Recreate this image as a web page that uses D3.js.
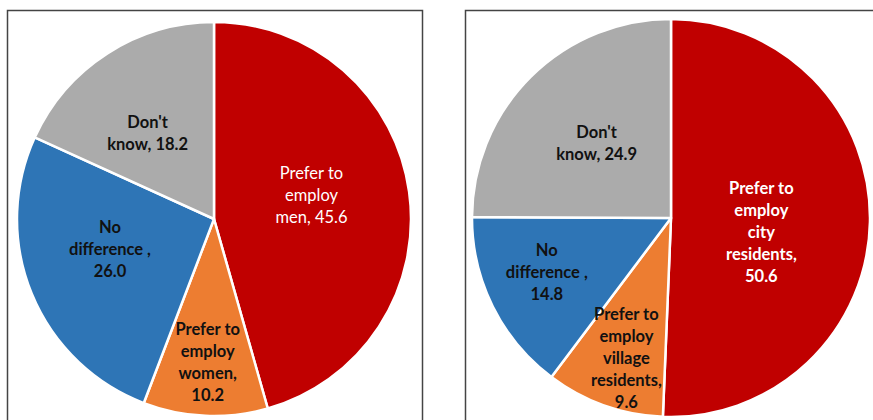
<!DOCTYPE html>
<html>
<head>
<meta charset="utf-8">
<script src="https://cdn.jsdelivr.net/npm/d3@7"></script>
<style>
  body { margin: 0; background: #fff; }
  svg { display: block; }
  text { font-family: Lato, "Open Sans", sans-serif; font-size: 16.5px; }
</style>
</head>
<body>
<svg id="chart" width="873" height="420" viewBox="0 0 873 420"></svg>
<script>
// ---- data ----
const colors = ["#C00000", "#ED7D31", "#2E75B6", "#ABABAB"];

// left: employ men vs women
const genderValues = [45.6, 10.2, 26.0, 18.2];
const genderLabels = [
    ["Prefer to", "employ", "men, {v}"],
    ["Prefer to", "employ", "women,", "{v}"],
    ["No", "difference ,", "{v}"],
    ["Don't", "know, {v}"]
];

// right: employ city vs village residents
const placeValues = [50.6, 9.6, 14.8, 24.9];
const placeLabels = [
    ["Prefer to", "employ", "city", "residents,", "{v}"],
    ["Prefer to", "employ", "village", "residents,", "{v}"],
    ["No", "difference ,", "{v}"],
    ["Don't", "know, {v}"]
];

const svg = d3.select("#chart")
const fmt = d3.format(".1f")

// panel frames (bottom/right edges run off the picture)
svg.append("rect")
    .attr("x", 7.5).attr("y", 10.5)
    .attr("width", 415).attr("height", 430)
    .attr("fill", "none").attr("stroke", "#444").attr("stroke-width", 1.5)
svg.append("rect")
    .attr("x", 465.5).attr("y", 10.5)
    .attr("width", 430).attr("height", 430)
    .attr("fill", "none").attr("stroke", "#444").attr("stroke-width", 1.5)

// label placement: fraction of radius + angle nudge (deg), per slice
const genderLayout = [{f: 0.51, da: -6}, {f: 0.73, da: 0}, {f: 0.55, da: 6}, {f: 0.55, da: -5}]
const placeLayout = [{f: 0.46, da: 8}, {f: 0.74, da: -2}, {f: 0.68, da: 3}, {f: 0.53, da: 0}]

drawPie(genderValues, genderLabels, genderLayout, 214, 219, 197, [false, true, true, true])
drawPie(placeValues, placeLabels, placeLayout, 671, 218, 199, [true, true, true, true])

function drawPie(values, labels, layout, cx, cy, r, bold)
{
    const g = svg.append("g")
        .attr("transform", `translate(${cx},${cy})`)

    const pie = d3.pie().sort(null).value(d => d)
    const arcs = pie(values)
    const arc = d3.arc().innerRadius(0).outerRadius(r)

    g.selectAll("path")
        .data(arcs)
        .enter()
        .append("path")
        .attr("d", arc)
        .attr("fill", (d, i) => colors[i])
        .attr("stroke", "#fff")
        .attr("stroke-width", 2.5)
        .attr("stroke-linejoin", "round")

    const lineH = 22
    arcs.forEach((d, i) => {
        const mid = (d.startAngle + d.endAngle) / 2 + layout[i].da * Math.PI / 180
        const rr = r * layout[i].f
        const x = rr * Math.sin(mid)
        const y = -rr * Math.cos(mid)
        const lines = labels[i].map(s => s.replace("{v}", fmt(values[i])))
        const t = g.append("text")
            .attr("text-anchor", "middle")
            .attr("fill", i == 0 ? "#fff" : "#111")
            .attr("font-weight", bold[i] ? "bold" : "normal")
        lines.forEach((s, k) => {
            t.append("tspan")
                .attr("x", x)
                .attr("y", y + (k - (lines.length - 1) / 2) * lineH)
                .attr("dy", "0.35em")
                .text(s)
        })
    })
}
</script>
</body>
</html>
